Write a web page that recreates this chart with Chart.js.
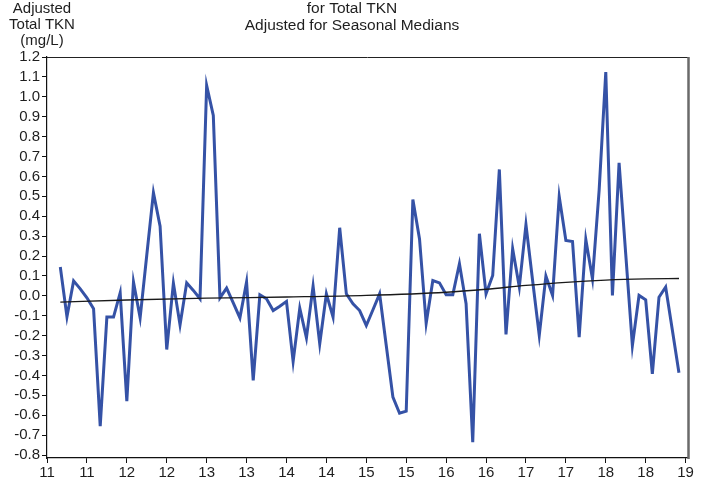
<!DOCTYPE html>
<html>
<head>
<meta charset="utf-8">
<title>Seasonal trend for Total TKN</title>
<script src="https://cdn.jsdelivr.net/npm/chart.js@4/dist/chart.umd.min.js"></script>
<style>
  html, body { margin: 0; padding: 0; background: #ffffff; }
  canvas { display: block; }
</style>
</head>
<body>
<canvas id="chart" width="711" height="484"></canvas>
<script>
// Monthly samples, September 2010 through June 2018 (x in two-digit decimal years)
const firstYear = 10;
const firstMonth = 9;

// Total TKN adjusted for seasonal medians (mg/L), one value per month
const adjustedTKN = [
  0.145, -0.105, 0.075, 0.035, -0.010, -0.065, -0.655, -0.107, -0.107, 0.015,
  -0.529, 0.069, -0.111, 0.205, 0.518, 0.350, -0.270, 0.064, -0.146, 0.065,
  0.027, -0.015, 1.057, 0.906, -0.010, 0.039, -0.035, -0.111, 0.069, -0.425,
  0.005, -0.015, -0.074, -0.052, -0.028, -0.330, -0.062, -0.211, 0.049, -0.241,
  0.010, -0.107, 0.342, 0.010, -0.040, -0.074, -0.149, -0.070, 0.010, -0.250,
  -0.509, -0.590, -0.580, 0.484, 0.286, -0.138, 0.077, 0.065, 0.005, 0.005,
  0.161, -0.040, -0.735, 0.312, 0.010, 0.102, 0.635, -0.194, 0.236, 0.044,
  0.358, 0.077, -0.199, 0.099, 0.002, 0.499, 0.278, 0.273, -0.208, 0.283,
  0.085, 0.530, 1.124, 0.002, 0.668, 0.209, -0.250, 0.002, -0.020, -0.392,
  -0.007, 0.044, -0.171, -0.387
];

// Smoothed trend through the adjusted values
const trendYears  = [10.667, 11.5, 12.5, 13.5, 14.5, 15.5, 16.0, 16.5, 17.0, 17.5, 18.0, 18.417];
const trendValues = [-0.032, -0.021, -0.012, -0.006, 0.002, 0.018, 0.033, 0.052, 0.068, 0.079, 0.085, 0.087];

// Axis ranges and tick spacing
const xRange = [10.5, 18.53];
const yRange = [-0.815, 1.2];
const xStep = 0.5;
const yStep = 0.1;

const titleLines = ['for Total TKN', 'Adjusted for Seasonal Medians'];
const yTitleLines = ['Adjusted', 'Total TKN', '(mg/L)'];

const monthX = adjustedTKN.map((_, i) => firstYear + (firstMonth - 1 + i) / 12);
const seriesPoints = adjustedTKN.map((v, i) => ({ x: monthX[i], y: v }));
const trendPoints = trendYears.map((t, i) => ({ x: t, y: trendValues[i] }));

const FONT = '"Liberation Sans", Arial, sans-serif';

// Titles and the top/right frame of the plot
const decorations = {
  id: 'decorations',
  afterDraw(chart) {
    const { ctx, chartArea } = chart;
    ctx.save();
    // frame
    ctx.strokeStyle = '#222222';
    ctx.lineWidth = 1;
    ctx.beginPath();
    ctx.moveTo(chartArea.left, chartArea.top + 0.5);
    ctx.lineTo(chartArea.right, chartArea.top + 0.5);
    ctx.stroke();
    ctx.strokeStyle = '#6a6a6a';
    ctx.lineWidth = 2.5;
    ctx.beginPath();
    ctx.moveTo(chartArea.right + 0.5, chartArea.top);
    ctx.lineTo(chartArea.right + 0.5, chartArea.bottom + 1);
    ctx.stroke();

    ctx.fillStyle = '#1e1e1e';
    ctx.font = '15.5px ' + FONT;
    ctx.textAlign = 'center';
    ctx.textBaseline = 'middle';
    titleLines.forEach((line, i) => ctx.fillText(line, 352, 9 + i * 17));
    ctx.font = '15px ' + FONT;
    yTitleLines.forEach((line, i) => ctx.fillText(line, 42, 9 + i * 15.8));
    ctx.restore();
  }
};

new Chart(document.getElementById('chart'), {
  type: 'line',
  data: {
    datasets: [
      {
        data: seriesPoints,
        borderColor: '#3552a6',
        borderWidth: 3,
        pointRadius: 0,
        tension: 0,
        borderJoinStyle: 'miter',
        order: 2
      },
      {
        data: trendPoints,
        borderColor: '#1a1a1a',
        borderWidth: 1.3,
        pointRadius: 0,
        cubicInterpolationMode: 'monotone',
        order: 1
      }
    ]
  },
  options: {
    responsive: false,
    animation: false,
    devicePixelRatio: 1,
    layout: { padding: { left: 0, top: 57, right: 23, bottom: 0 } },
    plugins: {
      legend: { display: false },
      tooltip: { enabled: false },
      title: { display: false }
    },
    scales: {
      x: {
        type: 'linear',
        min: xRange[0],
        max: xRange[1],
        afterFit(scale) { scale.height = 26; },
        border: { display: true, color: '#111111', width: 1.2 },
        grid: { drawOnChartArea: false, drawTicks: true, tickLength: 5, color: '#111111' },
        ticks: {
          stepSize: xStep,
          includeBounds: false,
          autoSkip: false,
          maxRotation: 0,
          padding: 1,
          color: '#1e1e1e',
          font: { family: FONT, size: 15 },
          callback: (v) => String(Math.round(v))
        }
      },
      y: {
        type: 'linear',
        min: yRange[0],
        max: yRange[1],
        afterFit(scale) { scale.width = 47; },
        border: { display: true, color: '#111111', width: 1.2 },
        grid: { drawOnChartArea: false, drawTicks: true, tickLength: 5, color: '#111111' },
        ticks: {
          stepSize: yStep,
          includeBounds: false,
          autoSkip: false,
          padding: 2,
          color: '#1e1e1e',
          font: { family: FONT, size: 15 },
          callback: (v) => (Math.abs(v) < 1e-9 ? 0 : v).toFixed(1)
        }
      }
    }
  },
  plugins: [decorations]
});
</script>
</body>
</html>
